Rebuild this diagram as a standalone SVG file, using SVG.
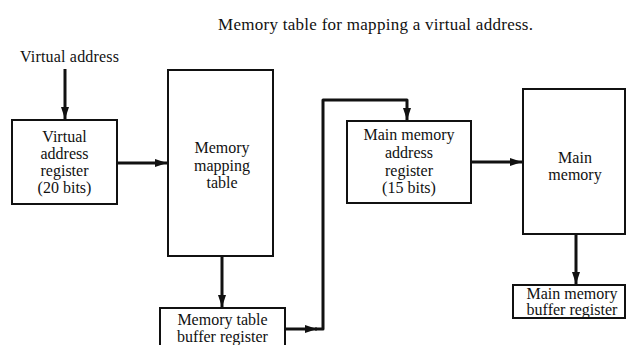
<svg xmlns="http://www.w3.org/2000/svg" width="626" height="345" viewBox="0 0 626 345">
  <style>
    .box { fill: #fff; stroke: #111; stroke-width: 2; }
    .wire { fill: none; stroke: #111; stroke-width: 3; stroke-linejoin: round; }
    text { font-family: "Liberation Serif", "DejaVu Serif", serif; font-size: 16px; fill: #111; text-anchor: middle; }
    .title { font-size: 17px; text-anchor: start; }
    .lbl { text-anchor: start; }
  </style>
  <defs>
    <marker id="arrow" viewBox="0 0 12 8" refX="12" refY="4" markerWidth="12" markerHeight="8" markerUnits="userSpaceOnUse" orient="auto">
      <path d="M0,0 L12,4 L0,8 Z" fill="#111"/>
    </marker>
  </defs>
  <rect width="626" height="345" fill="#fff"/>

  <text class="title" x="218" y="30" textLength="315" lengthAdjust="spacing">Memory table for mapping a virtual address.</text>

  <g id="connectors">
    <path class="wire" d="M65,69 V119" marker-end="url(#arrow)"/>
    <path class="wire" d="M117,163 H167" marker-end="url(#arrow)"/>
    <path class="wire" d="M222,256 V307" marker-end="url(#arrow)"/>
    <path class="wire" d="M285,329 H317" marker-end="url(#arrow)"/>
    <path class="wire" d="M315,329 H323 V100 H407 V120" marker-end="url(#arrow)"/>
    <path class="wire" d="M471,162 H522" marker-end="url(#arrow)"/>
    <path class="wire" d="M576,234 V284" marker-end="url(#arrow)"/>
  </g>

  <g id="virtual-address">
    <text class="lbl" x="20" y="62" textLength="99" lengthAdjust="spacing">Virtual address</text>
  </g>

  <g id="virtual-address-register">
    <rect class="box" x="12" y="120" width="105" height="84"/>
    <text x="64.5" y="142">Virtual</text>
    <text x="64.5" y="159">address</text>
    <text x="64.5" y="176">register</text>
    <text x="64.5" y="193">(20 bits)</text>
  </g>

  <g id="memory-mapping-table">
    <rect class="box" x="168" y="70" width="105" height="186"/>
    <text x="222" y="153">Memory</text>
    <text x="222" y="171">mapping</text>
    <text x="222" y="188">table</text>
  </g>

  <g id="memory-table-buffer-register">
    <rect class="box" x="160" y="308" width="125" height="50"/>
    <text x="222.5" y="325">Memory table</text>
    <text x="222.5" y="342">buffer register</text>
  </g>

  <g id="main-memory-address-register">
    <rect class="box" x="347" y="121" width="124" height="82"/>
    <text x="409" y="140">Main memory</text>
    <text x="409" y="158">address</text>
    <text x="409" y="176">register</text>
    <text x="409" y="193">(15 bits)</text>
  </g>

  <g id="main-memory">
    <rect class="box" x="523" y="89" width="102" height="145"/>
    <text x="575" y="163">Main</text>
    <text x="575" y="180">memory</text>
  </g>

  <g id="main-memory-buffer-register">
    <rect class="box" x="513" y="285" width="112" height="33"/>
    <text x="572" y="299">Main memory</text>
    <text x="572" y="315">buffer register</text>
  </g>
</svg>
